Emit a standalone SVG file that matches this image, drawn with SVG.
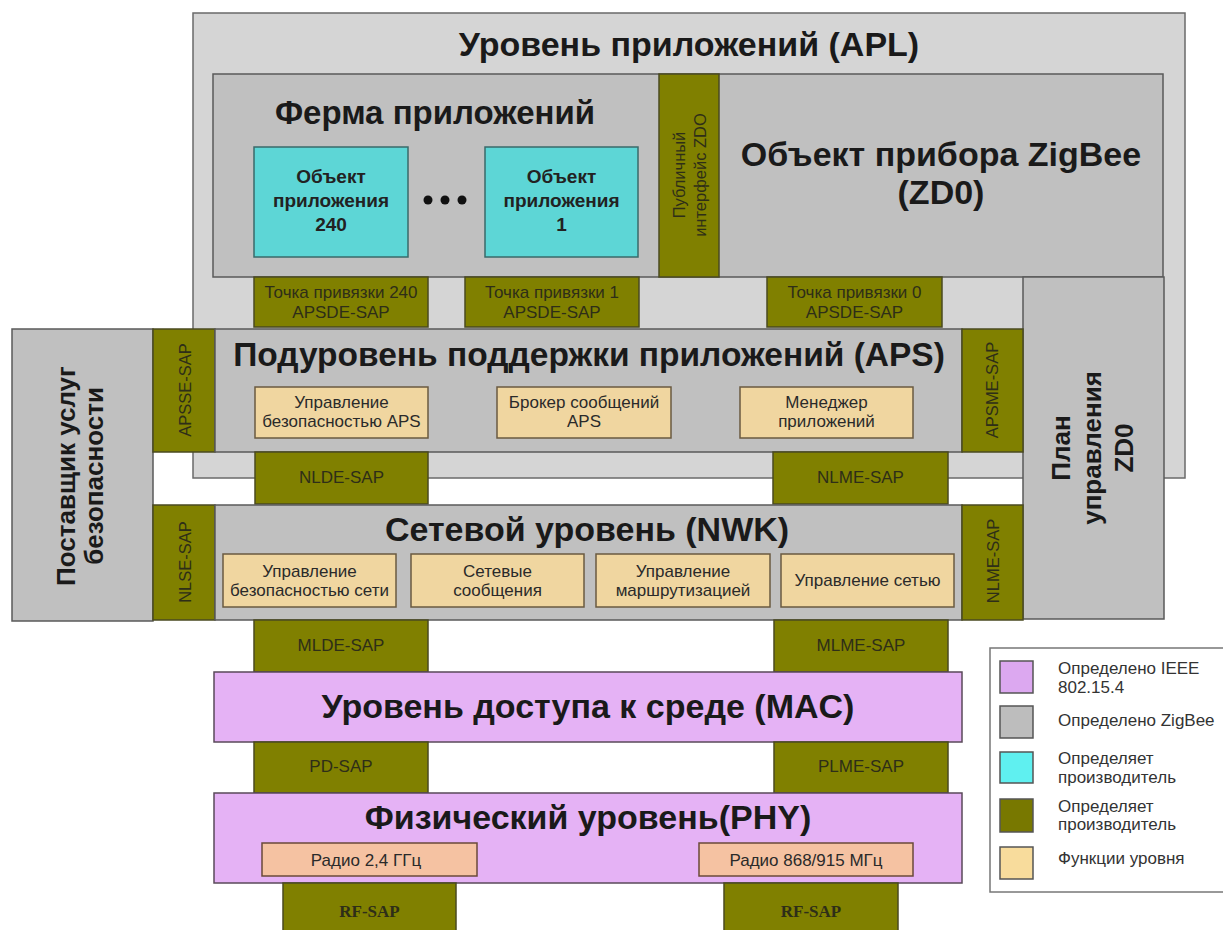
<svg xmlns="http://www.w3.org/2000/svg" width="1223" height="930" viewBox="0 0 1223 930">
<style>
text{font-family:"Liberation Sans",Arial,sans-serif;fill:#1a1a1a}
.lg{fill:#d5d5d5;stroke:#6a6a6a;stroke-width:1.5}
.gr{fill:#c0c0c0;stroke:#5a5a5a;stroke-width:1.5}
.ol{fill:#808000;stroke:#4a4a20;stroke-width:1.5}
.cy{fill:#5dd6d6;stroke:#3a6a6a;stroke-width:1.5}
.fn{fill:#f0d6a0;stroke:#6a5a40;stroke-width:1.5}
.vi{fill:#e5b2f5;stroke:#5a4a5a;stroke-width:1.5}
.rd{fill:#f5c2a2;stroke:#6a4a3a;stroke-width:1.5}
.t1{font-size:34px;font-weight:bold;text-anchor:middle}
.t2{font-size:26px;font-weight:bold;text-anchor:middle}
.cb{font-size:19px;font-weight:bold;text-anchor:middle;fill:#222}
.sp{font-size:17px;text-anchor:middle;fill:#2e2e18}
.sv{font-size:16.5px;text-anchor:middle;fill:#2e2e18}
.fx{font-size:17px;text-anchor:middle;fill:#2a2a2a}
.rf{font-family:"Liberation Serif","Times New Roman",serif;font-size:17px;font-weight:bold;text-anchor:middle;fill:#2e2e18}
.lt{font-size:17px;fill:#333}
</style>
<g id="apl">
<rect class="lg" x="193" y="13" width="992" height="465"/>
<text class="t1" x="689" y="56">Уровень приложений (APL)</text>
</g>
<g id="apl-inner">
<rect class="gr" x="213" y="74" width="950" height="203"/>
</g>
<g id="farm">
<text class="t1" x="435" y="124" style="font-size:33px">Ферма приложений</text>
</g>
<g id="obj240">
<rect class="cy" x="254" y="147" width="154" height="110"/>
<text class="cb" x="331" y="183">Объект</text>
<text class="cb" x="331" y="207">приложения</text>
<text class="cb" x="331" y="231">240</text>
</g>
<g id="dots" fill="#111">
<circle cx="428" cy="200" r="4.5"/><circle cx="445" cy="200" r="4.5"/><circle cx="462" cy="200" r="4.5"/>
</g>
<g id="obj1">
<rect class="cy" x="485" y="147" width="153" height="110"/>
<text class="cb" x="561.5" y="183">Объект</text>
<text class="cb" x="561.5" y="207">приложения</text>
<text class="cb" x="561.5" y="231">1</text>
</g>
<g id="zdo-public">
<rect class="ol" x="659" y="74" width="60" height="203"/>
<text class="sv" transform="translate(685,175) rotate(-90)">Публичный</text>
<text class="sv" transform="translate(706,175) rotate(-90)">интерфейс ZDO</text>
</g>
<g id="zdo">
<text class="t1" x="941" y="166">Объект прибора ZigBee</text>
<text class="t1" x="941" y="204">(ZD0)</text>
</g>
<g id="ep240">
<rect class="ol" x="254" y="277" width="174" height="50"/>
<text class="sp" x="341" y="298">Точка привязки 240</text>
<text class="sp" x="341" y="318">APSDE-SAP</text>
</g>
<g id="ep1">
<rect class="ol" x="465" y="277" width="174" height="50"/>
<text class="sp" x="552" y="298">Точка привязки 1</text>
<text class="sp" x="552" y="318">APSDE-SAP</text>
</g>
<g id="ep0">
<rect class="ol" x="767" y="277" width="175" height="50"/>
<text class="sp" x="854.5" y="298">Точка привязки 0</text>
<text class="sp" x="854.5" y="318">APSDE-SAP</text>
</g>
<g id="zdo-plan">
<rect class="gr" x="1023" y="277" width="141" height="342"/>
<text class="t2" transform="translate(1070,448) rotate(-90)">План</text>
<text class="t2" transform="translate(1101,448) rotate(-90)">управления</text>
<text class="t2" transform="translate(1133,448) rotate(-90)">ZD0</text>
</g>
<g id="security">
<rect class="gr" x="12" y="329" width="141" height="292"/>
<text class="t2" transform="translate(75,476) rotate(-90)">Поставщик услуг</text>
<text class="t2" transform="translate(103,476) rotate(-90)">безопасности</text>
</g>
<g id="apsse">
<rect class="ol" x="153" y="329" width="62" height="123"/>
<text class="sv" transform="translate(191,390) rotate(-90)">APSSE-SAP</text>
</g>
<g id="aps">
<rect class="gr" x="215" y="329" width="747" height="123"/>
<text class="t1" x="589" y="366" style="font-size:33.5px">Подуровень поддержки приложений (APS)</text>
</g>
<g id="apsme">
<rect class="ol" x="962" y="329" width="61" height="123"/>
<text class="sv" transform="translate(998,390) rotate(-90)">APSME-SAP</text>
</g>
<g id="aps-sec">
<rect class="fn" x="255" y="387" width="173" height="51"/>
<text class="fx" x="341.5" y="408">Управление</text>
<text class="fx" x="341.5" y="427">безопасностью APS</text>
</g>
<g id="aps-broker">
<rect class="fn" x="497" y="387" width="174" height="51"/>
<text class="fx" x="584" y="408">Брокер сообщений</text>
<text class="fx" x="584" y="427">APS</text>
</g>
<g id="aps-mgr">
<rect class="fn" x="740" y="387" width="173" height="51"/>
<text class="fx" x="826.5" y="408">Менеджер</text>
<text class="fx" x="826.5" y="427">приложений</text>
</g>
<g id="nlde">
<rect class="ol" x="255" y="452" width="173" height="52"/>
<text class="sp" x="341.5" y="483">NLDE-SAP</text>
</g>
<g id="nlme-top">
<rect class="ol" x="773" y="452" width="175" height="52"/>
<text class="sp" x="860.5" y="483">NLME-SAP</text>
</g>
<g id="nlse">
<rect class="ol" x="153" y="505" width="62" height="115"/>
<text class="sv" transform="translate(191,562) rotate(-90)">NLSE-SAP</text>
</g>
<g id="nwk">
<rect class="gr" x="215" y="505" width="747" height="115"/>
<text class="t1" x="587" y="541">Сетевой уровень (NWK)</text>
</g>
<g id="nlme-side">
<rect class="ol" x="962" y="505" width="61" height="115"/>
<text class="sv" transform="translate(999,561) rotate(-90)">NLME-SAP</text>
</g>
<g id="nwk-sec">
<rect class="fn" x="223" y="554" width="173" height="53"/>
<text class="fx" x="309.5" y="577">Управление</text>
<text class="fx" x="309.5" y="596">безопасностью сети</text>
</g>
<g id="nwk-msg">
<rect class="fn" x="411" y="554" width="173" height="53"/>
<text class="fx" x="497.5" y="577">Сетевые</text>
<text class="fx" x="497.5" y="596">сообщения</text>
</g>
<g id="nwk-route">
<rect class="fn" x="596" y="554" width="174" height="53"/>
<text class="fx" x="683" y="577">Управление</text>
<text class="fx" x="683" y="596">маршрутизацией</text>
</g>
<g id="nwk-mgmt">
<rect class="fn" x="781" y="554" width="173" height="53"/>
<text class="fx" x="867.5" y="586">Управление сетью</text>
</g>
<g id="mlde">
<rect class="ol" x="254" y="620" width="174" height="52"/>
<text class="sp" x="341" y="651">MLDE-SAP</text>
</g>
<g id="mlme">
<rect class="ol" x="774" y="620" width="174" height="52"/>
<text class="sp" x="861" y="651">MLME-SAP</text>
</g>
<g id="mac">
<rect class="vi" x="214" y="672" width="748" height="70"/>
<text class="t1" x="588" y="718">Уровень доступа к среде (MAC)</text>
</g>
<g id="pd">
<rect class="ol" x="254" y="742" width="174" height="51"/>
<text class="sp" x="341" y="772">PD-SAP</text>
</g>
<g id="plme">
<rect class="ol" x="774" y="742" width="174" height="51"/>
<text class="sp" x="861" y="772">PLME-SAP</text>
</g>
<g id="phy">
<rect class="vi" x="214" y="793" width="748" height="90"/>
<text class="t1" x="588" y="829">Физический уровень(PHY)</text>
</g>
<g id="radio24">
<rect class="rd" x="262" y="843" width="215" height="33"/>
<text class="fx" x="366" y="866">Радио 2,4 ГГц</text>
</g>
<g id="radio868">
<rect class="rd" x="699" y="843" width="214" height="33"/>
<text class="fx" x="806" y="866">Радио 868/915 МГц</text>
</g>
<g id="rf1">
<rect class="ol" x="283" y="883" width="173" height="50"/>
<text class="rf" x="369.5" y="917">RF-SAP</text>
</g>
<g id="rf2">
<rect class="ol" x="724" y="883" width="174" height="50"/>
<text class="rf" x="811" y="917">RF-SAP</text>
</g>
<g id="connectors"></g>
<g id="legend">
<rect x="990" y="648" width="240" height="244" fill="#fff" stroke="#777" stroke-width="1.5"/>
<rect x="1000" y="661" width="33" height="32" fill="#dca8f0" stroke="#555" stroke-width="1.5"/>
<rect x="1000" y="706" width="33" height="32" fill="#bdbdbd" stroke="#555" stroke-width="1.5"/>
<rect x="1000" y="752" width="33" height="31" fill="#5ff0f0" stroke="#555" stroke-width="1.5"/>
<rect x="1000" y="799" width="33" height="33" fill="#787800" stroke="#555" stroke-width="1.5"/>
<rect x="1000" y="847" width="33" height="32" fill="#f8dc9c" stroke="#555" stroke-width="1.5"/>
<text class="lt" x="1058" y="674">Определено IEEE</text>
<text class="lt" x="1058" y="693">802.15.4</text>
<text class="lt" x="1058" y="726">Определено ZigBee</text>
<text class="lt" x="1058" y="764">Определяет</text>
<text class="lt" x="1058" y="783">производитель</text>
<text class="lt" x="1058" y="812">Определяет</text>
<text class="lt" x="1058" y="830">производитель</text>
<text class="lt" x="1058" y="864">Функции уровня</text>
</g>
</svg>
